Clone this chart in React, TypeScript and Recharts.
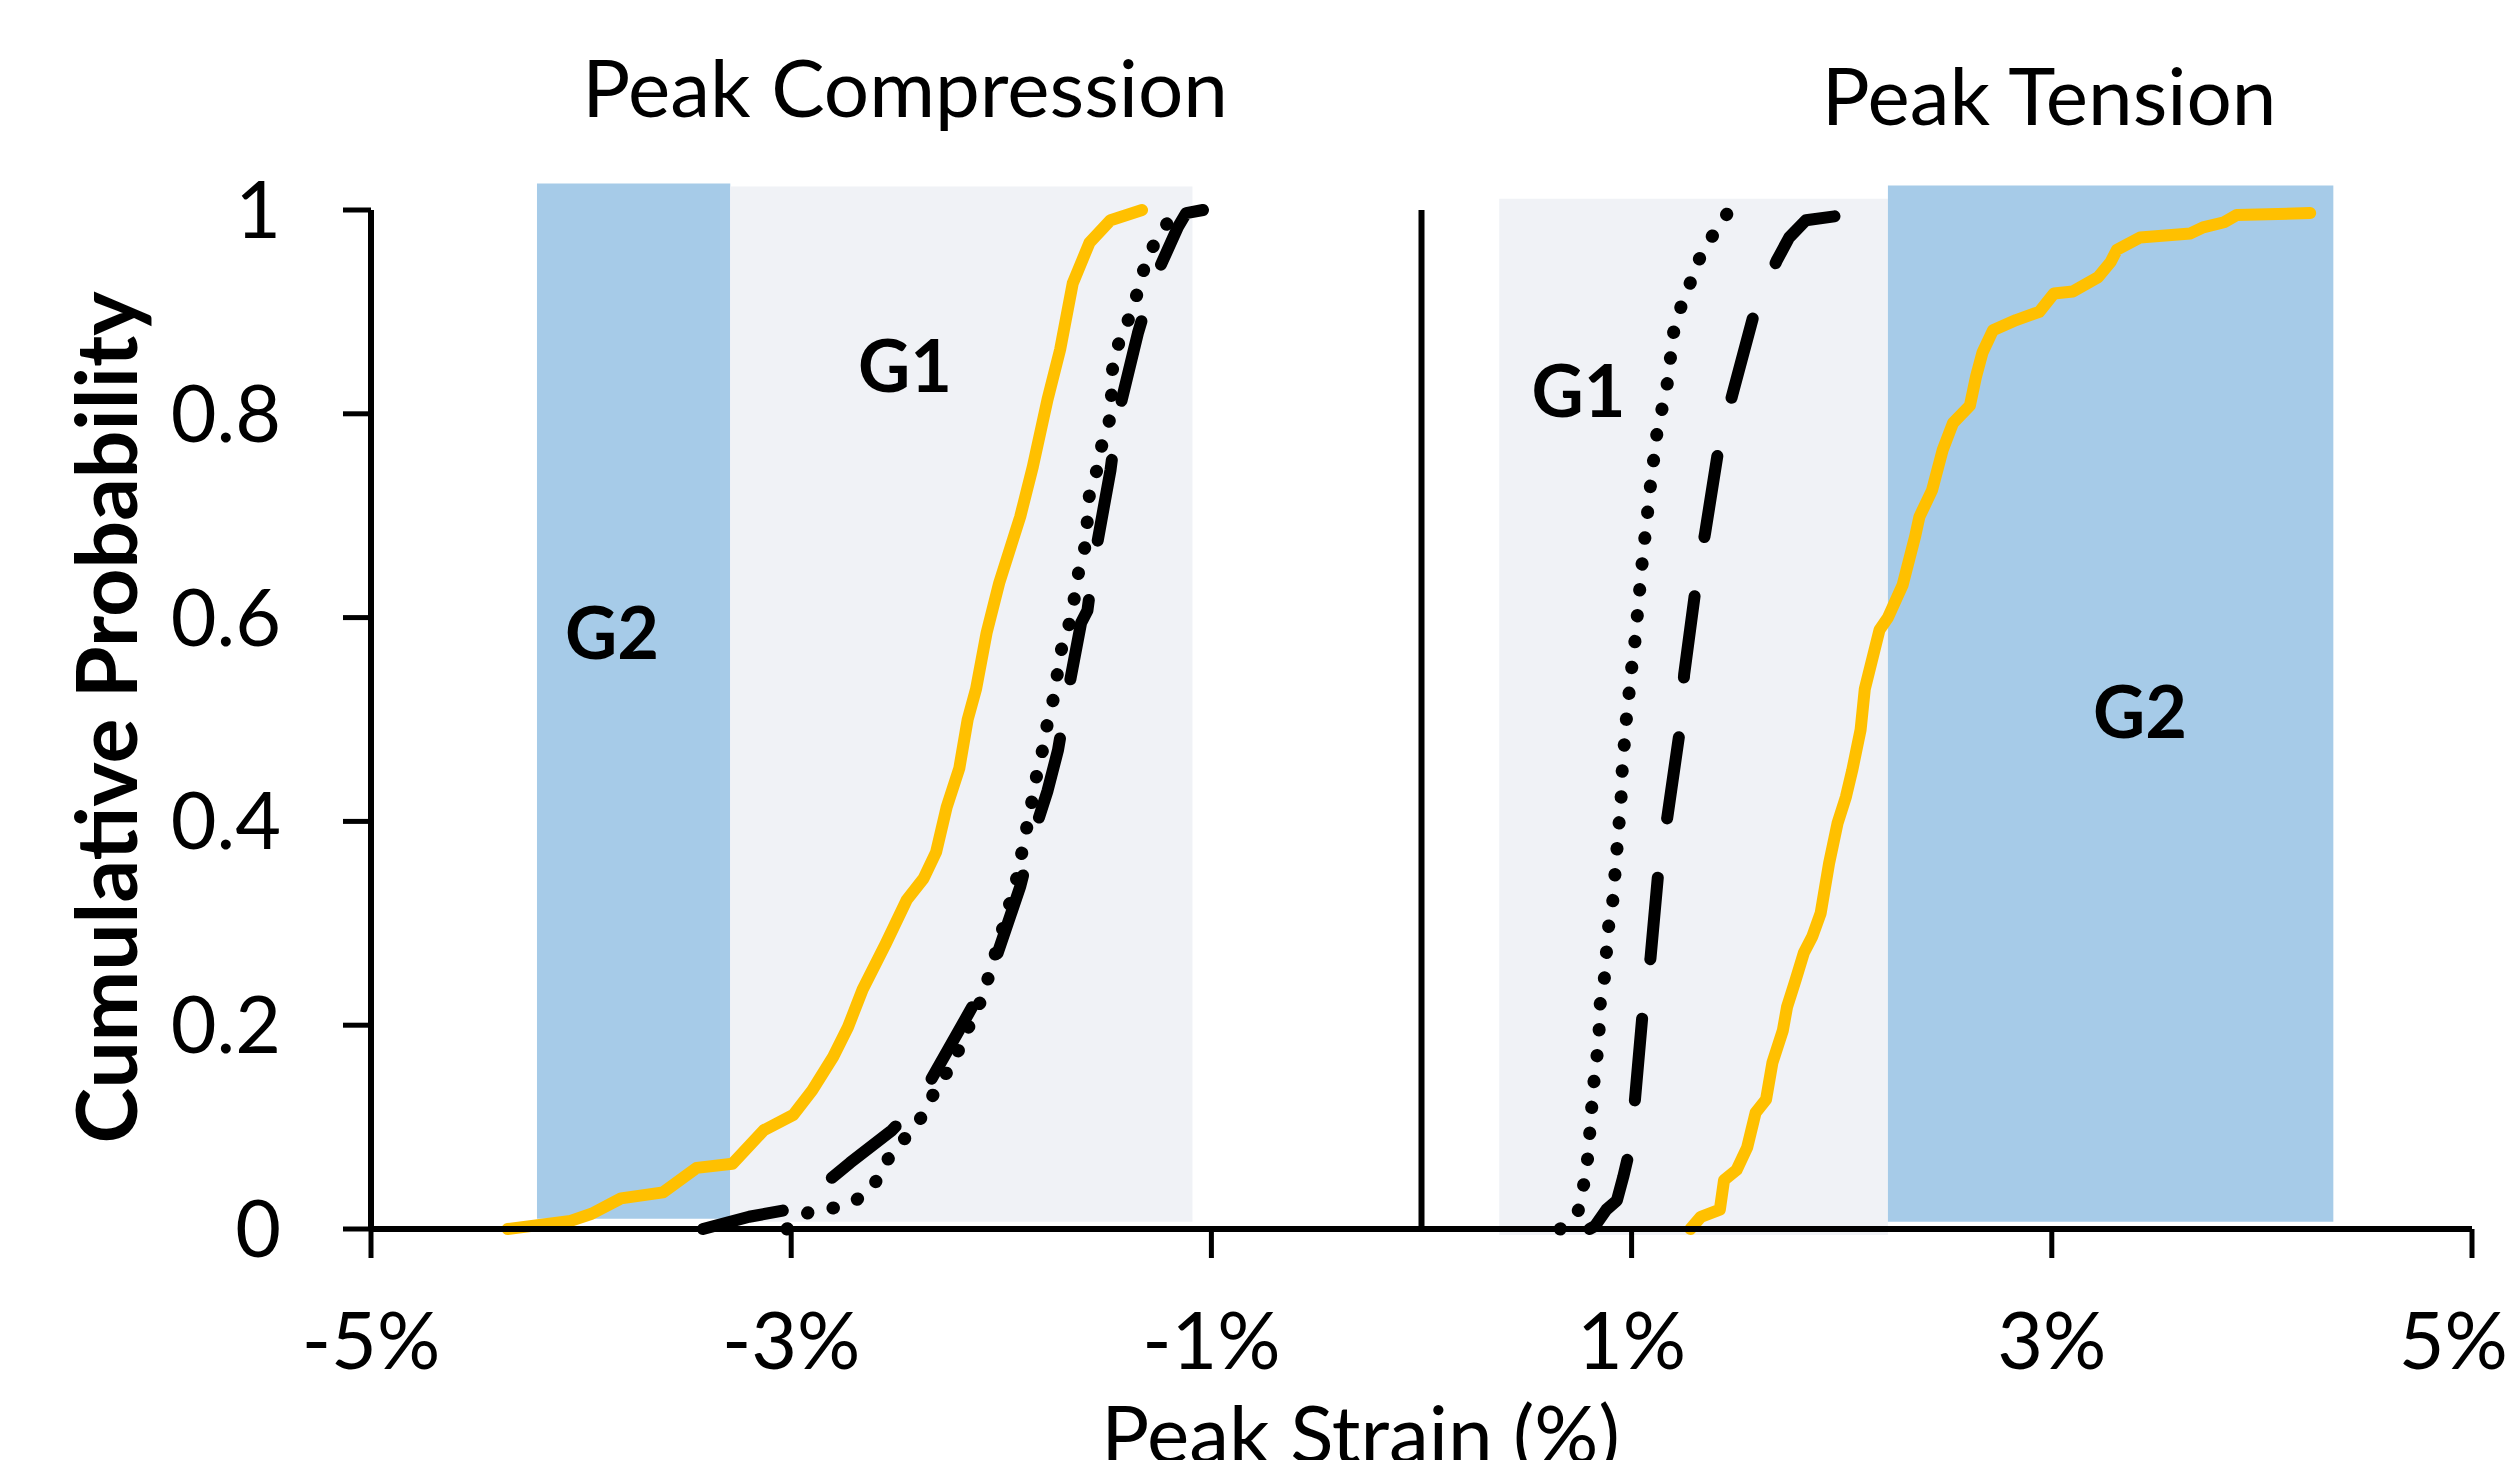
import React from 'react';
import {
  LineChart,
  Line,
  XAxis,
  YAxis,
  ReferenceArea,
  ReferenceLine,
  ReferenceDot,
} from 'recharts';

const FONT = 'Lato, "Open Sans", sans-serif';
const YELLOW = '#FFC000';
const BLUE = '#A6CBE8';
const GREY = '#F0F2F6';

// cumulative distributions, [peak strain %, cumulative probability]
const compSolid: [number, number][] = [
  [-4.35, 0], [-4.05, 0.008], [-3.95, 0.015], [-3.81, 0.03], [-3.61, 0.036],
  [-3.45, 0.06], [-3.28, 0.064], [-3.13, 0.097], [-2.99, 0.112], [-2.9, 0.136],
  [-2.8, 0.169], [-2.73, 0.198], [-2.66, 0.235], [-2.55, 0.28], [-2.45, 0.323],
  [-2.37, 0.344], [-2.31, 0.37], [-2.26, 0.414], [-2.2, 0.452], [-2.16, 0.5],
  [-2.12, 0.53], [-2.07, 0.585], [-2.01, 0.634], [-1.91, 0.699], [-1.85, 0.748],
  [-1.78, 0.814], [-1.72, 0.863], [-1.66, 0.928], [-1.58, 0.968], [-1.48, 0.99],
  [-1.33, 1.0],
];

const compDotted: [number, number][] = [
  [-3.02, 0], [-2.92, 0.016], [-2.81, 0.02], [-2.7, 0.027], [-2.61, 0.041],
  [-2.56, 0.063], [-2.49, 0.082], [-2.41, 0.1], [-2.35, 0.12], [-2.3, 0.143],
  [-2.23, 0.161], [-2.19, 0.183], [-2.09, 0.227], [-2.0, 0.29], [-1.92, 0.349],
  [-1.9, 0.372], [-1.85, 0.424], [-1.83, 0.447], [-1.8, 0.473], [-1.78, 0.497],
  [-1.75, 0.522], [-1.73, 0.549], [-1.71, 0.573], [-1.67, 0.598], [-1.65, 0.622],
  [-1.63, 0.647], [-1.6, 0.671], [-1.58, 0.722], [-1.54, 0.748], [-1.52, 0.771],
  [-1.48, 0.797], [-1.47, 0.846], [-1.44, 0.87], [-1.39, 0.895], [-1.35, 0.92],
  [-1.32, 0.943], [-1.27, 0.968], [-1.21, 0.987], [-1.15, 1.0],
];

const compDashed: [number, number][] = [
  [-3.42, 0], [-3.2, 0.012], [-2.99, 0.02], [-2.82, 0.048], [-2.72, 0.065],
  [-2.52, 0.097], [-2.46, 0.11], [-2.38, 0.13], [-2.16, 0.21], [-2.05, 0.251],
  [-1.91, 0.336], [-1.85, 0.385], [-1.78, 0.43], [-1.73, 0.47], [-1.69, 0.519],
  [-1.62, 0.595], [-1.59, 0.607], [-1.56, 0.654], [-1.48, 0.745], [-1.45, 0.794],
  [-1.35, 0.879], [-1.28, 0.928], [-1.16, 0.983], [-1.12, 0.997], [-1.04, 1.0],
];

const tensDotted: [number, number][] = [
  [0.66, 0], [0.745, 0.017], [0.77, 0.041], [0.79, 0.068], [0.8, 0.092],
  [0.81, 0.119], [0.82, 0.143], [0.835, 0.169], [0.845, 0.193], [0.85, 0.22],
  [0.87, 0.245], [0.88, 0.271], [0.89, 0.296], [0.91, 0.321], [0.92, 0.346],
  [0.93, 0.372], [0.94, 0.397], [0.95, 0.423], [0.955, 0.449], [0.965, 0.475],
  [0.975, 0.5], [1.0, 0.55], [1.016, 0.577], [1.05, 0.653], [1.09, 0.73],
  [1.12, 0.78], [1.17, 0.83], [1.2, 0.88], [1.235, 0.905], [1.28, 0.929],
  [1.32, 0.951], [1.38, 0.973], [1.46, 0.998],
];

const tensDashed: [number, number][] = [
  [0.8, 0], [0.826, 0.003], [0.88, 0.019], [0.93, 0.028], [0.96, 0.051],
  [0.99, 0.077], [1.016, 0.127], [1.055, 0.218], [1.09, 0.266], [1.13, 0.357],
  [1.17, 0.404], [1.23, 0.49], [1.25, 0.544], [1.31, 0.637], [1.35, 0.683],
  [1.42, 0.774], [1.48, 0.819], [1.59, 0.904], [1.69, 0.95], [1.75, 0.973],
  [1.83, 0.99], [2.01, 0.995],
];

const tensSolid: [number, number][] = [
  [1.28, 0], [1.33, 0.012], [1.42, 0.019], [1.44, 0.048], [1.5, 0.058],
  [1.55, 0.08], [1.59, 0.114], [1.64, 0.127], [1.67, 0.163], [1.72, 0.195],
  [1.74, 0.218], [1.78, 0.244], [1.82, 0.271], [1.86, 0.287], [1.9, 0.31],
  [1.94, 0.359], [1.98, 0.398], [2.02, 0.424], [2.05, 0.45], [2.09, 0.49],
  [2.11, 0.53], [2.18, 0.588], [2.22, 0.6], [2.29, 0.632], [2.35, 0.68],
  [2.37, 0.699], [2.43, 0.725], [2.48, 0.764], [2.53, 0.791], [2.61, 0.808],
  [2.64, 0.837], [2.67, 0.86], [2.72, 0.882], [2.83, 0.892], [2.94, 0.9],
  [3.01, 0.918], [3.1, 0.92], [3.22, 0.934], [3.28, 0.949], [3.31, 0.961],
  [3.42, 0.973], [3.66, 0.977], [3.72, 0.983], [3.82, 0.988], [3.88, 0.995],
  [4.23, 0.997],
];

// shaded G1 / G2 zones
const bandGroup = ['G2', 'G1', 'G1', 'G2'];
const bandFrom = [-4.21, -3.29, 0.37, 2.22];
const bandTo = [-3.29, -1.09, 2.22, 4.34];
const bandBottom = [0.01, 0.007, -0.006, 0.007];
const bandTop = [1.026, 1.023, 1.011, 1.024];

// text annotations placed in data units (x centre, baseline)
const noteText = ['Peak Compression', 'Peak Tension', 'G1', 'G2', 'G1', 'G2'];
const noteX = [-2.458, 2.987, -2.458, -3.853, 0.747, 3.42];
const noteY = [1.0913, 1.0834, 0.8214, 0.5594, 0.7969, 0.4818];

const xTicks = [-5, -3, -1, 1, 3, 5];
const yTicks = [0, 0.2, 0.4, 0.6, 0.8, 1];

const toPoints = (pts: [number, number][]) => pts.map(([x, y]) => ({ x, y }));

const series = [
  { name: 'compSolid', pts: compSolid, kind: 'solid' },
  { name: 'compDotted', pts: compDotted, kind: 'dotted' },
  { name: 'compDashed', pts: compDashed, kind: 'dashed' },
  { name: 'tensDotted', pts: tensDotted, kind: 'dotted' },
  { name: 'tensDashed', pts: tensDashed, kind: 'dashed' },
  { name: 'tensSolid', pts: tensSolid, kind: 'solid' },
];

const lineStyle: Record<string, any> = {
  solid: { stroke: YELLOW, strokeWidth: 12 },
  dotted: { stroke: '#000', strokeWidth: 13, strokeDasharray: '0.5 25.5' },
  dashed: { stroke: '#000', strokeWidth: 12, strokeDasharray: '82 60' },
};

export default function App() {
  return (
    <div style={{ position: 'absolute', left: 0, top: 0, background: '#fff' }}>
      <LineChart
        width={2506}
        height={1460}
        margin={{ top: 210, right: 34, bottom: 131, left: 171 }}
      >
        {bandGroup.map((g, i) => (
          <ReferenceArea
            key={`band-${i}`}
            x1={bandFrom[i]}
            x2={bandTo[i]}
            y1={bandBottom[i]}
            y2={bandTop[i]}
            fill={g === 'G2' ? BLUE : GREY}
            fillOpacity={1}
            stroke="none"
            ifOverflow="visible"
          />
        ))}
        <ReferenceLine x={0} stroke="#000" strokeWidth={6} />
        {series.map((s) => (
          <Line
            key={s.name}
            data={toPoints(s.pts)}
            dataKey="y"
            type="linear"
            dot={false}
            activeDot={false}
            strokeLinecap="round"
            strokeLinejoin="round"
            isAnimationActive={false}
            {...lineStyle[s.kind]}
          />
        ))}
        {noteText.map((t, i) => (
          <ReferenceDot
            key={`note-${i}`}
            x={noteX[i]}
            y={noteY[i]}
            r={1}
            fill="none"
            stroke="none"
            ifOverflow="visible"
            label={{
              value: t,
              content: (p: any) => (
                <text
                  x={p.viewBox.x + p.viewBox.width / 2}
                  y={p.viewBox.y + p.viewBox.height / 2}
                  textAnchor="middle"
                  fontFamily={FONT}
                  fontSize={t.startsWith('G') ? 72 : 80}
                  fontWeight={t.startsWith('G') ? 700 : 400}
                  fill="#000"
                >
                  {t}
                </text>
              ),
            }}
          />
        ))}
        <XAxis
          dataKey="x"
          type="number"
          domain={[-5, 5]}
          ticks={xTicks}
          tickFormatter={(v) => `${v}%`}
          height={100}
          tickSize={29}
          tickMargin={55}
          tick={{ fontSize: 79, fill: '#000', fontFamily: FONT }}
          axisLine={{ stroke: '#000', strokeWidth: 6 }}
          tickLine={{ stroke: '#000', strokeWidth: 5 }}
          label={{
            value: 'Peak Strain (%)',
            content: (p: any) => (
              <text
                x={p.viewBox.x + p.viewBox.width / 2 - 61}
                y={p.viewBox.y + 234}
                textAnchor="middle"
                fontFamily={FONT}
                fontSize={80}
                fill="#000"
              >
                Peak Strain (%)
              </text>
            ),
          }}
        />
        <YAxis
          type="number"
          domain={[0, 1]}
          ticks={yTicks}
          width={200}
          tickSize={28}
          tickMargin={62}
          tick={{ fontSize: 79, fill: '#000', fontFamily: FONT }}
          axisLine={{ stroke: '#000', strokeWidth: 6 }}
          tickLine={{ stroke: '#000', strokeWidth: 5 }}
          label={{
            value: 'Cumulative Probability',
            content: (p: any) => {
              const cx = p.viewBox.x - 34;
              const cy = p.viewBox.y + p.viewBox.height / 2 - 2;
              return (
                <text
                  x={cx}
                  y={cy}
                  transform={`rotate(-90 ${cx} ${cy})`}
                  textAnchor="middle"
                  fontFamily={FONT}
                  fontSize={84}
                  fontWeight={700}
                  fill="#000"
                >
                  Cumulative Probability
                </text>
              );
            },
          }}
        />
      </LineChart>
    </div>
  );
}
